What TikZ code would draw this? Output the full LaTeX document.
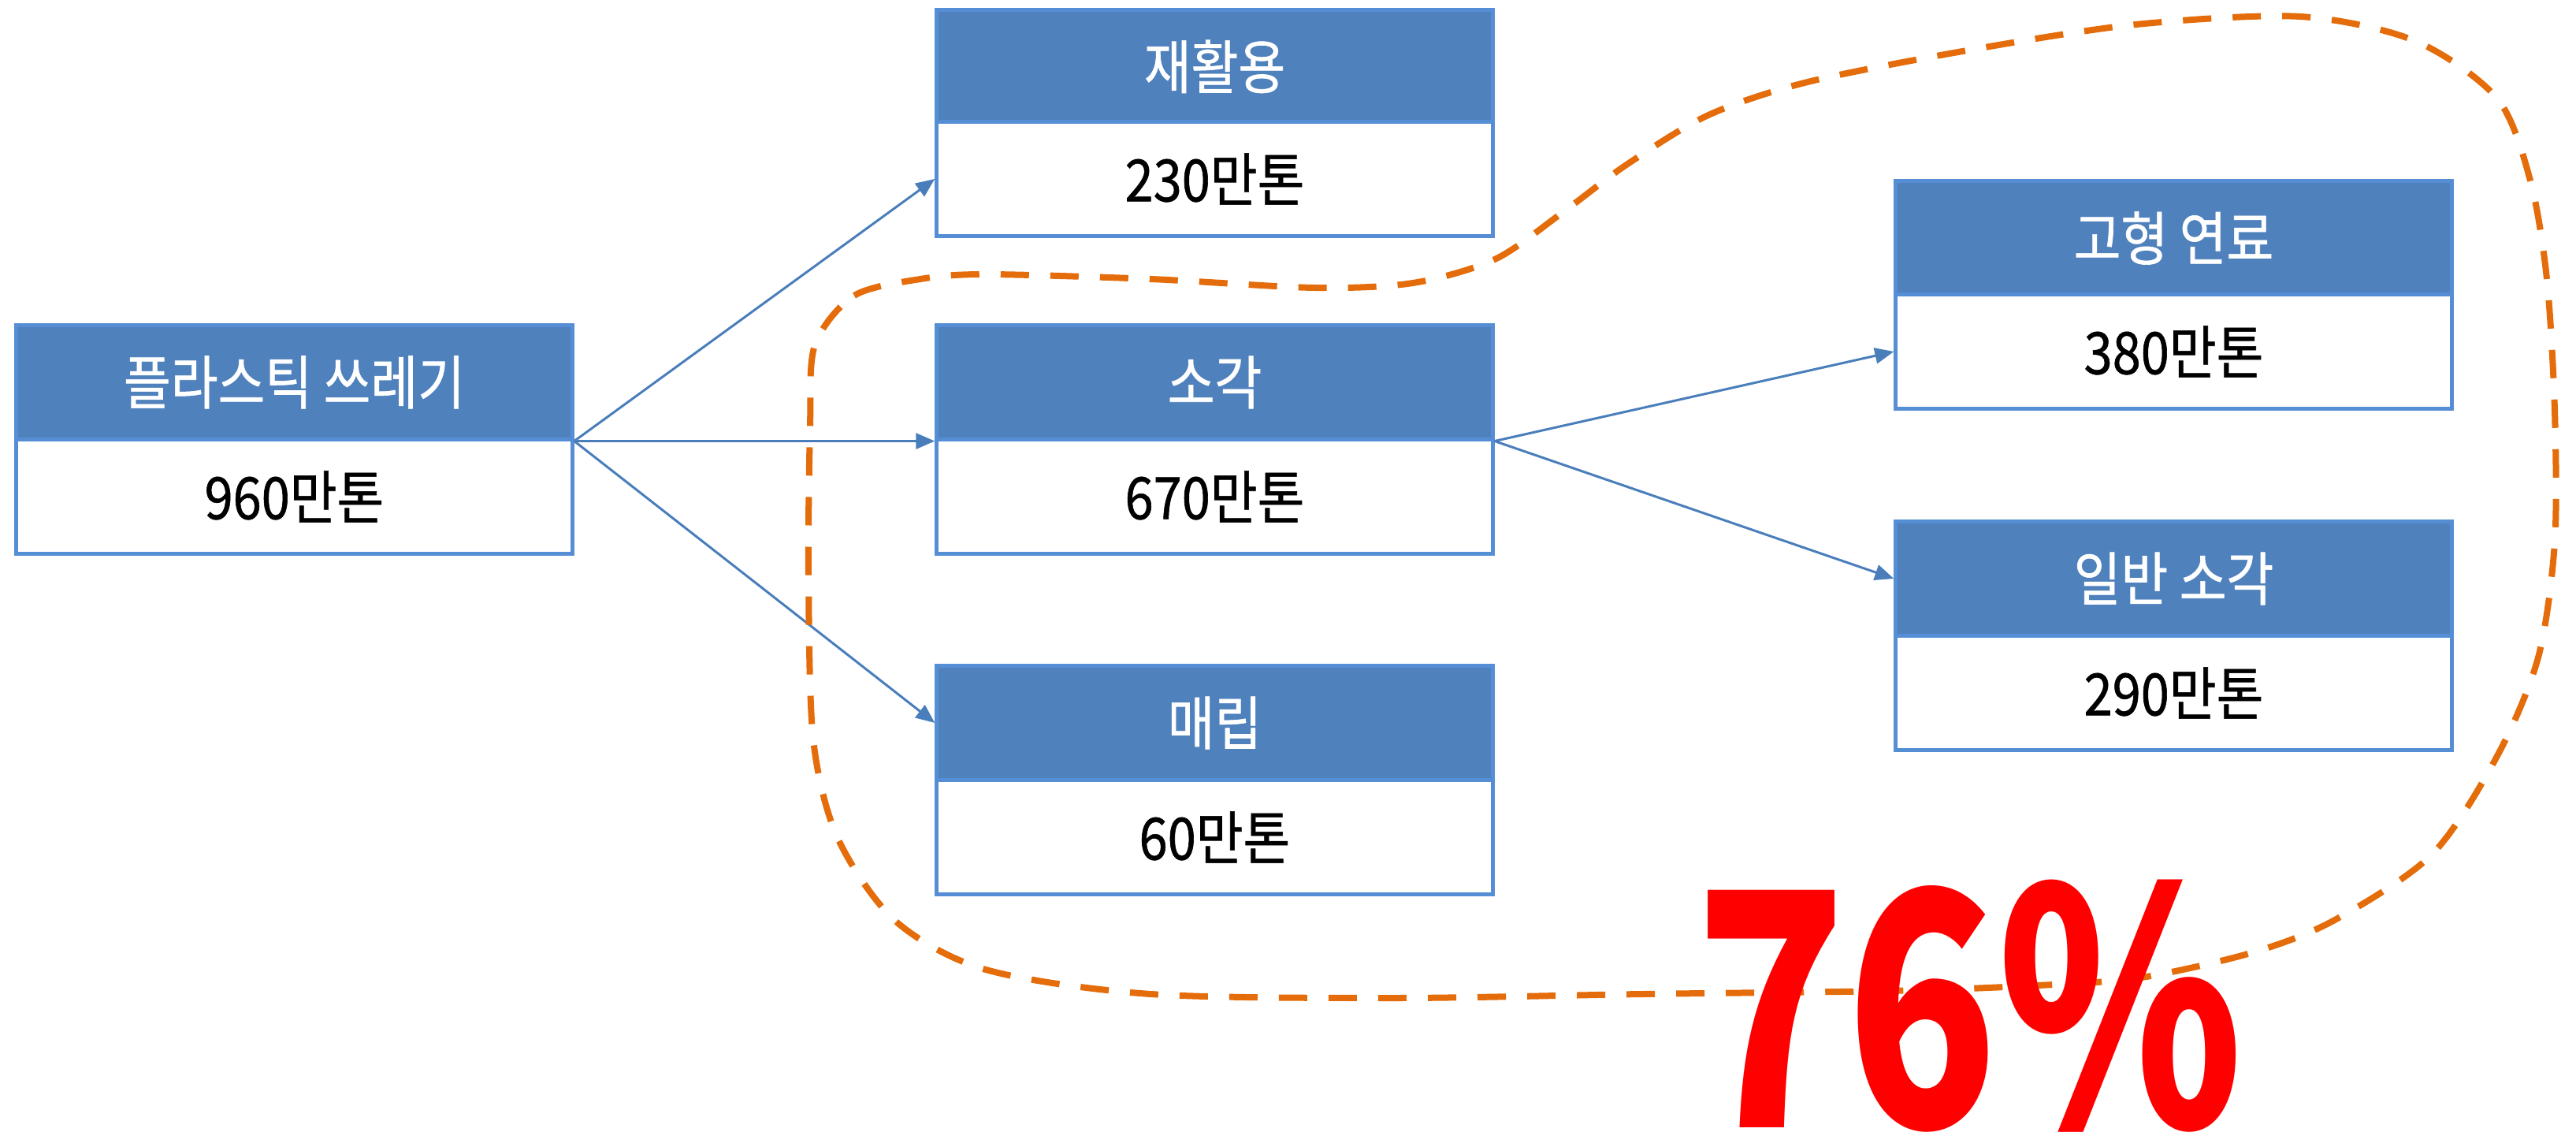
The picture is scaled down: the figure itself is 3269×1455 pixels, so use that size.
\documentclass[tikz,border=0pt]{standalone}
\usepackage{fontspec}
\usetikzlibrary{arrows.meta}
\newfontfamily\krfont[FakeStretch=0.88, FakeBold=0.8]{Noto Sans CJK KR}
\newfontfamily\bigfont[FakeStretch=0.76]{Noto Sans CJK KR}
\definecolor{hdrfill}{HTML}{4F81BD}
\definecolor{boxline}{HTML}{558ED5}
\definecolor{arrline}{HTML}{4A7EBB}
\definecolor{blobline}{HTML}{E46C0A}
\definecolor{bigred}{HTML}{FF0000}
\tikzset{
  hdr/.style={draw=boxline, line width=0.05cm, fill=hdrfill, minimum width=7.05cm, minimum height=1.44cm, inner sep=0pt,
    text=white, font=\krfont\fontsize{21pt}{25pt}\selectfont},
  bdy/.style={draw=boxline, line width=0.05cm, fill=white, minimum width=7.05cm, minimum height=1.44cm, inner sep=0pt,
    text=black, font=\krfont\fontsize{21pt}{25pt}\selectfont},
  arr/.style={draw=arrline, line width=0.03cm, -{Triangle[length=0.24cm, width=0.2cm]}},
  blob/.style={draw=blobline, line width=0.08cm, dash pattern=on 0.36cm off 0.27cm}
}
\begin{document}
\begin{tikzpicture}[x=0.01cm, y=-0.01cm]
\useasboundingbox (0,0) rectangle (3269,1455);
% left box
\node[hdr] (lh) at (373.5,485) {플라스틱 쓰레기};
\node[bdy] (lb) at (373.5,630) {960만톤};
% middle column
\node[hdr] (rh) at (1541.5,84.5) {재활용};
\node[bdy] (rb) at (1541.5,227) {230만톤};
\node[hdr] (sh) at (1541.5,485) {소각};
\node[bdy] (sb) at (1541.5,630) {670만톤};
\node[hdr] (mh) at (1541.5,917) {매립};
\node[bdy] (mb) at (1541.5,1062) {60만톤};
% right column
\node[hdr] (gh) at (2758.5,302) {고형 연료};
\node[bdy] (gb) at (2758.5,446) {380만톤};
\node[hdr] (ih) at (2758.5,734) {일반 소각};
\node[bdy] (ib) at (2758.5,879) {290만톤};
% arrows
\draw[arr] (lh.south east) -- (rb.west);
\draw[arr] (lh.south east) -- (sh.south west);
\draw[arr] (lh.south east) -- (mh.west);
\draw[arr] (sh.south east) -- (gb.west);
\draw[arr] (sh.south east) -- (ih.west);
% dashed blob
\draw[blob] plot[smooth cycle] coordinates {
(1034,438) (1084,375) (1168,354) (1251,348) (1460,354) (1668,365) (1793,359)
(1897,329) (1981,271) (2064,209) (2168,146) (2294,104) (2502,63) (2711,31)
(2919,21) (3065,52) (3169,125) (3211,229) (3232,354) (3242,521) (3242,688)
(3221,834) (3169,959) (3086,1084) (2961,1168) (2856,1209) (2711,1241)
(2565,1251) (2398,1257) (2085,1261) (1772,1266) (1460,1261) (1251,1230)
(1136,1168) (1063,1063) (1032,938) (1026,730) (1028,542)};
% big percentage
\node[anchor=base, inner sep=0pt, text=bigred, font=\bigfont\bfseries\fontsize{118pt}{126pt}\selectfont] (pct) at (2499,1430) {76\%};
\end{tikzpicture}
\end{document}
